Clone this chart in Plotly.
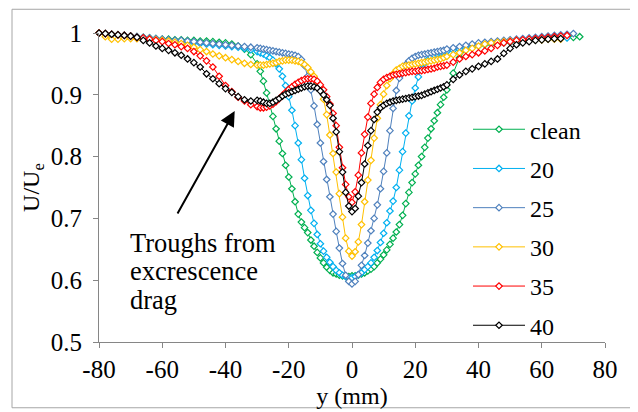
import plotly.graph_objects as go

# x positions (mm): 2 mm steps outside, 1 mm steps in the centre
Y_MM = [-80, -78, -76, -74, -72, -70, -68, -66, -64, -62, -60, -58, -56, -54, -52, -50,
        -48, -46, -44, -42, -40, -38, -36, -34, -32, -30,
        -29, -28, -27, -26, -25, -24, -23, -22, -21, -20, -19, -18, -17, -16, -15, -14,
        -13, -12, -11, -10, -9, -8, -7, -6, -5, -4, -3, -2, -1, 0, 1, 2, 3, 4, 5, 6, 7,
        8, 9, 10, 11, 12, 13, 14, 15, 16, 17, 18, 19, 20, 21, 22, 23, 24, 25, 26, 27, 28, 29,
        30, 32, 34, 36, 38, 40, 42, 44, 46, 48, 50, 52, 54, 56, 58, 60, 62, 64, 66, 68, 70, 72]

CLEAN = [1.000, 0.999, 0.998, 0.997, 0.996, 0.995, 0.994, 0.993, 0.992, 0.991, 0.990, 0.990, 0.989,
         0.989, 0.988, 0.988, 0.987, 0.987, 0.986, 0.985, 0.984, 0.982, 0.979, 0.974, 0.965, 0.950,
         0.938, 0.922, 0.903, 0.884, 0.865, 0.845, 0.825, 0.805, 0.786, 0.767, 0.748, 0.727, 0.707,
         0.694, 0.685, 0.677, 0.665, 0.655, 0.645, 0.636, 0.628, 0.621, 0.616, 0.612, 0.610, 0.608,
         0.607, 0.606, 0.606, 0.607, 0.607, 0.608, 0.610, 0.612, 0.615, 0.618, 0.622, 0.628, 0.634,
         0.641, 0.649, 0.658, 0.668, 0.678, 0.690, 0.705, 0.724, 0.742, 0.758, 0.772, 0.786, 0.800,
         0.815, 0.830, 0.845, 0.858, 0.871, 0.884, 0.896,
         0.908, 0.935, 0.960, 0.973, 0.977, 0.979, 0.981, 0.982, 0.983, 0.984, 0.985, 0.986, 0.987,
         0.988, 0.989, 0.990, 0.991, 0.992, 0.992, 0.993, 0.993, 0.994]

S20 = [1.000, 0.998, 0.997, 0.996, 0.995, 0.994, 0.993, 0.992, 0.991, 0.990, 0.989, 0.988, 0.987,
       0.986, 0.985, 0.984, 0.983, 0.982, 0.981, 0.980, 0.979, 0.978, 0.977, 0.975, 0.973, 0.970,
       0.968, 0.966, 0.963, 0.960, 0.956, 0.950, 0.942, 0.930, 0.915, 0.897, 0.875, 0.850, 0.822,
       0.795, 0.765, 0.737, 0.713, 0.692, 0.674, 0.659, 0.647, 0.637, 0.629, 0.622, 0.616, 0.612,
       0.608, 0.606, 0.604, 0.604, 0.606, 0.609, 0.612, 0.617, 0.622, 0.628, 0.637, 0.648, 0.661,
       0.676, 0.693, 0.712, 0.728, 0.750, 0.778, 0.808, 0.838, 0.866, 0.890, 0.911, 0.929, 0.942,
       0.951, 0.957, 0.961, 0.964, 0.966, 0.968, 0.969,
       0.970, 0.972, 0.974, 0.976, 0.978, 0.980, 0.982, 0.983, 0.984, 0.985, 0.986, 0.987, 0.988,
       0.989, 0.990, 0.990, 0.991, 0.991, 0.992, 0.992]

S25 = [1.000, 0.999, 0.998, 0.997, 0.996, 0.995, 0.994, 0.993, 0.992, 0.991, 0.990, 0.989, 0.988,
       0.988, 0.987, 0.986, 0.985, 0.984, 0.983, 0.982, 0.981, 0.980, 0.979, 0.978, 0.977, 0.976,
       0.975, 0.974, 0.973, 0.972, 0.971, 0.970, 0.969, 0.968, 0.967, 0.966, 0.965, 0.964, 0.962,
       0.957, 0.947, 0.930, 0.908, 0.882, 0.852, 0.822, 0.792, 0.763, 0.735, 0.707, 0.679, 0.652,
       0.627, 0.608, 0.598, 0.594, 0.598, 0.609, 0.624, 0.640, 0.660, 0.680, 0.700, 0.722, 0.748,
       0.776, 0.806, 0.842, 0.878, 0.907, 0.927, 0.940, 0.949, 0.955, 0.959, 0.962, 0.964, 0.965,
       0.966, 0.967, 0.968, 0.969, 0.970, 0.971, 0.972,
       0.974, 0.976, 0.978, 0.980, 0.982, 0.984, 0.985, 0.986, 0.987, 0.988, 0.989, 0.990, 0.991,
       0.992, 0.993, 0.994, 0.995, 0.996, 0.997, 0.998, 0.999]

S30 = [1.000, 0.994, 0.990, 0.990, 0.991, 0.991, 0.991, 0.990, 0.990, 0.989, 0.988, 0.987, 0.985,
       0.983, 0.980, 0.977, 0.973, 0.970, 0.966, 0.963, 0.960, 0.957, 0.954, 0.951, 0.949, 0.948,
       0.948, 0.948, 0.949, 0.950, 0.951, 0.952, 0.954, 0.955, 0.956, 0.956, 0.956, 0.955, 0.954,
       0.952, 0.949, 0.944, 0.937, 0.930, 0.921, 0.910, 0.893, 0.868, 0.835, 0.805, 0.775, 0.740,
       0.702, 0.668, 0.647, 0.639, 0.646, 0.662, 0.690, 0.727, 0.762, 0.794, 0.830, 0.862, 0.884,
       0.901, 0.915, 0.926, 0.934, 0.940, 0.943, 0.946, 0.947, 0.948, 0.949, 0.950, 0.951, 0.952,
       0.953, 0.954, 0.955, 0.956, 0.957, 0.958, 0.960,
       0.962, 0.965, 0.968, 0.972, 0.975, 0.979, 0.982, 0.984, 0.985, 0.986, 0.987, 0.988, 0.988,
       0.989, 0.989, 0.989, 0.990, 0.990, 0.990]

S35 = [1.000, 0.999, 0.998, 0.997, 0.996, 0.995, 0.993, 0.992, 0.990, 0.988, 0.986, 0.983, 0.981,
       0.978, 0.975, 0.970, 0.963, 0.955, 0.945, 0.930, 0.915, 0.905, 0.896, 0.890, 0.884, 0.881,
       0.879, 0.879, 0.880, 0.882, 0.885, 0.889, 0.894, 0.899, 0.904, 0.909, 0.913, 0.917, 0.920,
       0.923, 0.925, 0.926, 0.926, 0.925, 0.922, 0.916, 0.908, 0.897, 0.885, 0.870, 0.850, 0.815,
       0.782, 0.755, 0.735, 0.726, 0.743, 0.770, 0.806, 0.836, 0.864, 0.886, 0.901, 0.912, 0.920,
       0.925, 0.928, 0.930, 0.932, 0.933, 0.934, 0.935, 0.936, 0.937, 0.938, 0.938, 0.939, 0.939,
       0.940, 0.941, 0.942, 0.943, 0.945, 0.946, 0.947,
       0.948, 0.953, 0.958, 0.962, 0.965, 0.968, 0.971, 0.975, 0.980, 0.984, 0.986, 0.988, 0.989,
       0.990, 0.991, 0.992, 0.993, 0.994, 0.995, 0.996]

S40 = [1.000, 0.999, 0.998, 0.997, 0.996, 0.995, 0.993, 0.988, 0.984, 0.979, 0.975, 0.972, 0.968,
       0.964, 0.958, 0.952, 0.945, 0.934, 0.926, 0.918, 0.910, 0.904, 0.897, 0.892, 0.890, 0.891,
       0.890, 0.888, 0.886, 0.886, 0.888, 0.891, 0.894, 0.898, 0.901, 0.903, 0.905, 0.907, 0.909,
       0.911, 0.913, 0.914, 0.914, 0.913, 0.911, 0.906, 0.900, 0.892, 0.883, 0.862, 0.840, 0.808,
       0.775, 0.742, 0.720, 0.711, 0.716, 0.736, 0.758, 0.788, 0.818, 0.842, 0.860, 0.872, 0.879,
       0.883, 0.886, 0.888, 0.890, 0.891, 0.892, 0.893, 0.894, 0.895, 0.896, 0.897, 0.898, 0.899,
       0.901, 0.903, 0.905, 0.907, 0.909, 0.911, 0.913,
       0.916, 0.925, 0.932, 0.938, 0.942, 0.946, 0.950, 0.954, 0.958, 0.967, 0.975, 0.981, 0.984,
       0.986, 0.988, 0.989, 0.990, 0.991, 0.991]

SERIES_NAMES = ["clean", "20", "25", "30", "35", "40"]
SERIES_VALUES = [CLEAN, S20, S25, S30, S35, S40]
COLORS = ["#00B050", "#00B0F0", "#4F81BD", "#FFC000", "#FF0000", "#000000"]

X_TICKS = [-80, -60, -40, -20, 0, 20, 40, 60, 80]
Y_TICKS = [0.5, 0.6, 0.7, 0.8, 0.9, 1.0]
Y_TICK_TEXT = ["0.5", "0.6", "0.7", "0.8", "0.9", "1"]
NOTE_LINES = ["Troughs from", "excrescence", "drag"]

FONT = "Liberation Serif"
AXIS_GRAY = "#868686"

fig = go.Figure()
for name, vals, col in zip(SERIES_NAMES, SERIES_VALUES, COLORS):
    xs = Y_MM[:len(vals)]
    fig.add_trace(go.Scatter(
        x=xs, y=vals, name=name, mode="lines+markers",
        line=dict(color=col, width=1),
        marker=dict(symbol="diamond", size=5, color="white",
                    line=dict(color=col, width=1.2)),
        cliponaxis=False, legendgroup=name,
    ))

# the page body has an 8 px margin, so the figure is drawn 8 px smaller
OFF = 8
W, H = 638 - OFF, 412 - OFF
L, R, T, B = 99 - OFF, 33, 31 - OFF, 68.5


def px_x(p):  # window pixel -> paper x
    return (p - OFF - L) / (W - L - R)


def px_y(p):  # window pixel -> paper y
    return (H - B - (p - OFF)) / (H - T - B)


def v_of(p):  # window pixel -> data y
    return 1.0 - (p - 31) / 625.0


def mm_of(p):  # window pixel -> data x
    return (p - 352.3) / 3.1625


annotations = []
for i, line in enumerate(NOTE_LINES):
    annotations.append(dict(x=mm_of(128), y=v_of(243 + 29 * i), xref="x", yref="y",
                            xanchor="left", yanchor="middle", text=line, showarrow=False,
                            font=dict(family=FONT, size=26.5, color="black")))
annotations.append(dict(x=mm_of(235), y=v_of(110), xref="x", yref="y",
                        ax=mm_of(177), ay=v_of(215), axref="x", ayref="y", text="",
                        showarrow=True, arrowhead=2, arrowsize=1.5, arrowwidth=2,
                        arrowcolor="black"))

fig.update_layout(
    width=W, height=H,
    margin=dict(l=L, r=R, t=T, b=B),
    paper_bgcolor="white", plot_bgcolor="white",
    font=dict(family=FONT, size=24, color="black"),
    showlegend=True,
    legend=dict(x=px_x(468), y=px_y(106), xanchor="left", yanchor="top",
                font=dict(family=FONT, size=24, color="black"),
                bgcolor="rgba(0,0,0,0)", tracegroupgap=5, itemwidth=52),
    xaxis=dict(range=[-80, 80], tickvals=X_TICKS, ticktext=[str(v) for v in X_TICKS],
               showgrid=False, zeroline=False, showline=True, linecolor=AXIS_GRAY,
               linewidth=1, ticks="outside", ticklen=5, tickcolor=AXIS_GRAY,
               tickfont=dict(family=FONT, size=25, color="black"),
               title=dict(text="y (mm)", font=dict(family=FONT, size=24, color="black"),
                          standoff=0)),
    yaxis=dict(range=[0.5, 1.0], tickvals=Y_TICKS, ticktext=Y_TICK_TEXT,
               showgrid=False, zeroline=False, showline=True, linecolor=AXIS_GRAY,
               linewidth=1, ticks="outside", ticklen=5, tickcolor=AXIS_GRAY,
               ticklabelstandoff=6,
               tickfont=dict(family=FONT, size=25, color="black"),
               title=dict(text="U/U<sub>e</sub>", font=dict(family=FONT, size=24, color="black"),
                          standoff=4)),
    shapes=[dict(type="rect", xref="paper", yref="paper",
                 x0=px_x(12), x1=px_x(632), y0=px_y(410), y1=px_y(7),
                 line=dict(color="#a6a6a6", width=1), fillcolor="rgba(0,0,0,0)", layer="below")],
    annotations=annotations,
)

fig.write_html("out.html")
